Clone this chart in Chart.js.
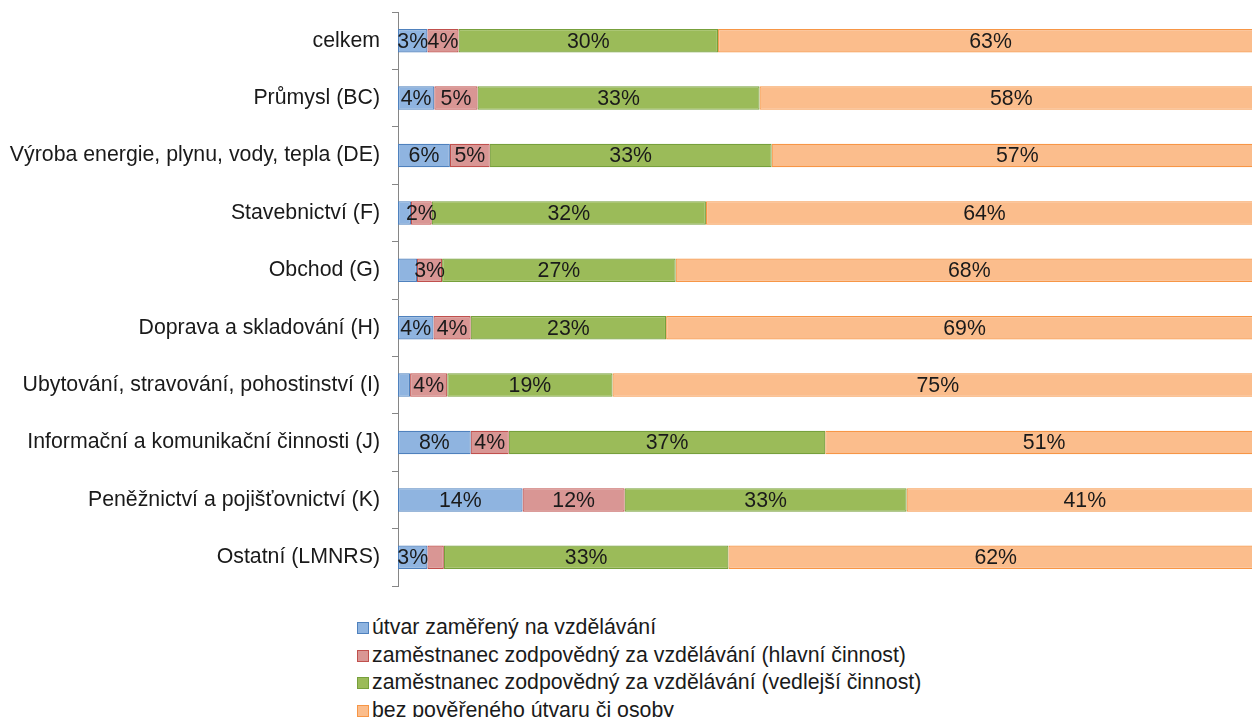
<!DOCTYPE html>
<html>
<head>
<meta charset="utf-8">
<script src="https://cdn.jsdelivr.net/npm/chart.js@4"></script>
<style>
    html, body { margin: 0; padding: 0; background: #fff; overflow: hidden; width: 1252px; height: 717px; }
    #wrap { position: absolute; left: 0; top: 0; width: 1266px; height: 600px; }
    #legend { position: absolute; left: 357px; top: 614px; font: 21.3px "Liberation Sans", Arial, sans-serif; color: #1a1a1a; }
    #legend div { height: 27.7px; line-height: 27.7px; white-space: nowrap; }
    #legend span.box { display: inline-block; width: 10px; height: 10px; border: 1px solid; margin-right: 3px; vertical-align: 0px; }
</style>
</head>
<body>
<div id="wrap"><canvas id="chart"></canvas></div>
<div id="legend"></div>
<script>
// --- Datos ---
const categories = [
    'celkem',
    'Průmysl (BC)',
    'Výroba energie, plynu, vody, tepla (DE)',
    'Stavebnictví (F)',
    'Obchod (G)',
    'Doprava a skladování (H)',
    'Ubytování, stravování, pohostinství (I)',
    'Informační a komunikační činnosti (J)',
    'Peněžnictví a pojišťovnictví (K)',
    'Ostatní (LMNRS)'
];
const seriesNames = [
    'útvar zaměřený na vzdělávání',
    'zaměstnanec zodpovědný za vzdělávání (hlavní činnost)',
    'zaměstnanec zodpovědný za vzdělávání (vedlejší činnost)',
    'bez pověřeného útvaru či osoby'
];
const utvar    = [3.4, 4.2, 6.0, 1.5, 2.2, 4.1, 1.4, 8.4, 14.4, 3.4];
const hlavni   = [3.6, 5.0, 4.6, 2.4, 2.9, 4.3, 4.3, 4.4, 11.8, 1.9];
const vedlejsi = [30.0, 32.6, 32.6, 31.7, 27.0, 22.6, 19.1, 36.6, 32.6, 32.9];
const bez      = [63.0, 58.2, 56.8, 64.4, 67.9, 69.0, 75.2, 50.6, 41.2, 61.8];

const fills   = ['#8fb4e0', '#d99694', '#9bbb59', '#fbbd8c'];
const borders = ['#4f81bd', '#c0504d', '#77a03c', '#f79646'];
const fontFamily = '"Liberation Sans", Arial, sans-serif';

// --- Popisky hodnot uvnitř segmentů ---
const valueLabels = {
    id: 'valueLabels',
    afterDatasetsDraw(chart) {
        const ctx = chart.ctx;
        ctx.save();
        ctx.font = '21.3px ' + fontFamily;
        ctx.fillStyle = '#1a1a1a';
        ctx.textAlign = 'center';
        ctx.textBaseline = 'middle';
        chart.data.datasets.forEach((ds, i) => {
            const meta = chart.getDatasetMeta(i);
            meta.data.forEach((bar, j) => {
                const v = ds.data[j];
                if (v < 2.3) return;
                ctx.fillText(Math.round(v) + '%', (bar.x + bar.base) / 2, bar.y + 1);
            });
        });
        ctx.restore();
    }
};

const series = [utvar, hlavni, vedlejsi, bez];

new Chart(document.getElementById('chart'), {
    type: 'bar',
    data: {
        labels: categories,
        datasets: series.map((d, i) => ({
            label: seriesNames[i],
            data: d,
            backgroundColor: fills[i],
            borderColor: borders[i],
            borderWidth: 1.2,
            borderSkipped: false,
            barPercentage: 0.82,
            categoryPercentage: 0.5
        }))
    },
    options: {
        indexAxis: 'y',
        responsive: true,
        maintainAspectRatio: false,
        animation: false,
        layout: { padding: { top: 12, bottom: 14, right: 3, left: 0 } },
        plugins: {
            legend: { display: false },
            tooltip: { enabled: false }
        },
        scales: {
            x: { stacked: true, min: 0, max: 100, display: false },
            y: {
                stacked: true,
                afterFit(scale) {
                    scale.width = 398;
                    scale.paddingTop = 0;
                    scale.paddingBottom = 0;
                },
                border: { color: '#868686', width: 1 },
                grid: { offset: true, drawOnChartArea: false, tickLength: 6, color: '#868686' },
                ticks: {
                    color: '#1a1a1a',
                    padding: 12,
                    font: { family: fontFamily, size: 21.3 }
                }
            }
        }
    },
    plugins: [valueLabels]
});

// --- Legenda ---
const legend = document.getElementById('legend');
seriesNames.forEach((name, i) => {
    const row = document.createElement('div');
    const box = document.createElement('span');
    box.className = 'box';
    box.style.background = fills[i];
    box.style.borderColor = borders[i];
    row.appendChild(box);
    row.appendChild(document.createTextNode(name));
    legend.appendChild(row);
});
</script>
</body>
</html>
